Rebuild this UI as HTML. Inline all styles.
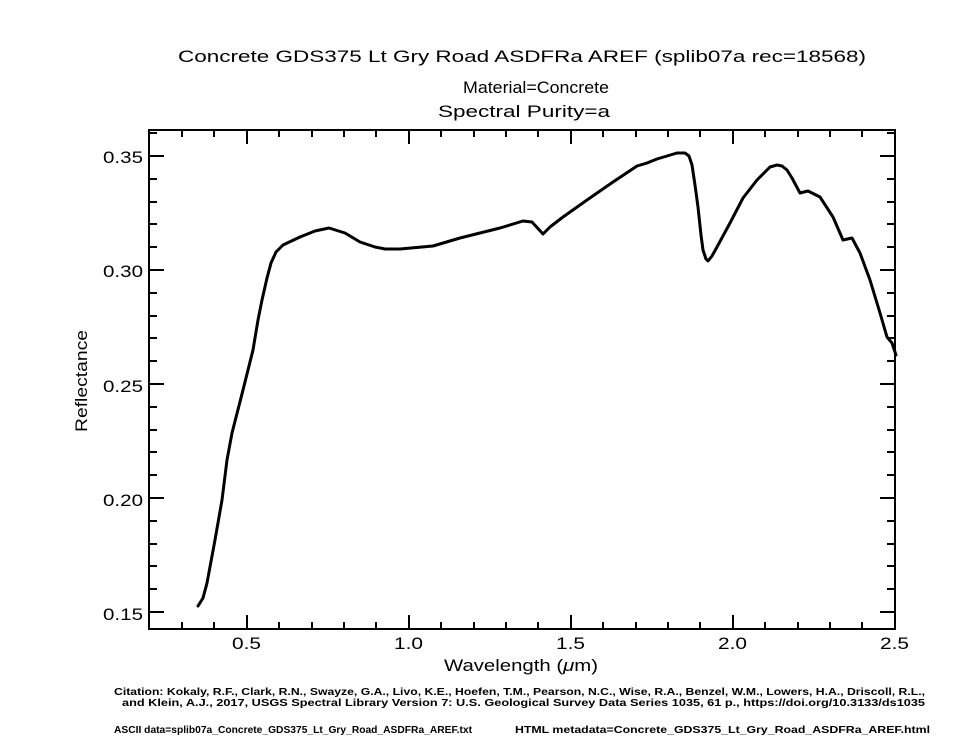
<!DOCTYPE html>
<html><head><meta charset="utf-8"><style>html,body{margin:0;padding:0;background:#fff}svg{display:block}</style></head>
<body>
<svg width="960" height="751" viewBox="0 0 960 751" xmlns="http://www.w3.org/2000/svg" font-family="Liberation Sans, sans-serif">
<g fill="#000">
<text x="178" y="62" font-size="17" textLength="688" lengthAdjust="spacingAndGlyphs">Concrete GDS375 Lt Gry Road  ASDFRa AREF    (splib07a rec=18568)</text>
<text x="463" y="93" font-size="17" textLength="146" lengthAdjust="spacingAndGlyphs">Material=Concrete</text>
<text x="438" y="117" font-size="17" textLength="172" lengthAdjust="spacingAndGlyphs">Spectral Purity=a</text>
<text x="444" y="671" font-size="17" textLength="154" lengthAdjust="spacingAndGlyphs">Wavelength (<tspan font-style="italic">μ</tspan>m)</text>
<text transform="translate(87,432) rotate(-90)" font-size="17" textLength="102" lengthAdjust="spacingAndGlyphs">Reflectance</text>
<g font-size="17">
<text x="103" y="163" textLength="40" lengthAdjust="spacingAndGlyphs">0.35</text><text x="103" y="277" textLength="40" lengthAdjust="spacingAndGlyphs">0.30</text><text x="103" y="392" textLength="40" lengthAdjust="spacingAndGlyphs">0.25</text><text x="103" y="506" textLength="40" lengthAdjust="spacingAndGlyphs">0.20</text><text x="103" y="620" textLength="40" lengthAdjust="spacingAndGlyphs">0.15</text>
</g>
<g font-size="17">
<text x="232" y="649" textLength="29" lengthAdjust="spacingAndGlyphs">0.5</text><text x="394" y="649" textLength="29" lengthAdjust="spacingAndGlyphs">1.0</text><text x="556" y="649" textLength="29" lengthAdjust="spacingAndGlyphs">1.5</text><text x="718" y="649" textLength="29" lengthAdjust="spacingAndGlyphs">2.0</text><text x="880" y="649" textLength="29" lengthAdjust="spacingAndGlyphs">2.5</text>
</g>
<g font-size="10.5" font-weight="bold">
<text x="114" y="695" textLength="811" lengthAdjust="spacingAndGlyphs">Citation: Kokaly, R.F., Clark, R.N., Swayze, G.A., Livo, K.E., Hoefen, T.M., Pearson, N.C., Wise, R.A., Benzel, W.M., Lowers, H.A., Driscoll, R.L.,</text>
<text x="122" y="706" textLength="803" lengthAdjust="spacingAndGlyphs">and Klein, A.J., 2017, USGS Spectral Library Version 7: U.S. Geological Survey Data Series 1035, 61 p., https://doi.org/10.3133/ds1035</text>
<text x="114" y="733" textLength="358" lengthAdjust="spacingAndGlyphs">ASCII data=splib07a_Concrete_GDS375_Lt_Gry_Road_ASDFRa_AREF.txt</text>
<text x="515" y="733" textLength="415" lengthAdjust="spacingAndGlyphs">HTML metadata=Concrete_GDS375_Lt_Gry_Road_ASDFRa_AREF.html</text>
</g>
</g>
<rect x="149" y="130" width="746" height="499" fill="none" stroke="#000" stroke-width="2"/>
<g stroke="#000" stroke-width="2">
<path d="M247 629v-14M409 629v-14M571 629v-14M733 629v-14M247 130v14M409 130v14M571 130v14M733 130v14"/>
<path d="M182 629v-7M214 629v-7M279 629v-7M312 629v-7M344 629v-7M376 629v-7M441 629v-7M474 629v-7M506 629v-7M538 629v-7M603 629v-7M636 629v-7M668 629v-7M700 629v-7M765 629v-7M798 629v-7M830 629v-7M862 629v-7
M182 130v7M214 130v7M279 130v7M312 130v7M344 130v7M376 130v7M441 130v7M474 130v7M506 130v7M538 130v7M603 130v7M636 130v7M668 130v7M700 130v7M765 130v7M798 130v7M830 130v7M862 130v7"/>
<path d="M149 156h15M149 270h15M149 384h15M149 498h15M149 612h15M895 156h-15M895 270h-15M895 384h-15M895 498h-15M895 612h-15"/>
<path d="M149 133h8M149 179h8M149 202h8M149 224h8M149 247h8M149 293h8M149 316h8M149 338h8M149 361h8M149 407h8M149 430h8M149 452h8M149 475h8M149 521h8M149 544h8M149 566h8M149 589h8
M895 133h-8M895 179h-8M895 202h-8M895 224h-8M895 247h-8M895 293h-8M895 316h-8M895 338h-8M895 361h-8M895 407h-8M895 430h-8M895 452h-8M895 475h-8M895 521h-8M895 544h-8M895 566h-8M895 589h-8"/>
</g>
<polyline fill="none" stroke="#000" stroke-width="3" stroke-linejoin="round" stroke-linecap="round" points="
198,606 203,598 207,583 215,540 222,500 227,460 232,433 243,390 253,350 258,320 262,300 267,278 271,263 276,252 283,245 300,237 315,231 329,228 345,233 360,242 375,247 385,249 400,249 433,246 460,238 500,228 523,221 532,222 543,234 550,227 563,217 587,200 613,182 637,166 647,163 657,159 667,156 677,153 685,153 689,156 692,165 695,185 698,207 701,235 703,250 706,259 708,261 712,256 717,247 730,223 743,198 757,180 770,167 777,165 782,166 787,170 792,178 800,193 808,191 820,197 833,217 843,240 852,238 860,253 870,280 880,313 887,337 892,343 896,355"/>
</svg>
</body></html>
